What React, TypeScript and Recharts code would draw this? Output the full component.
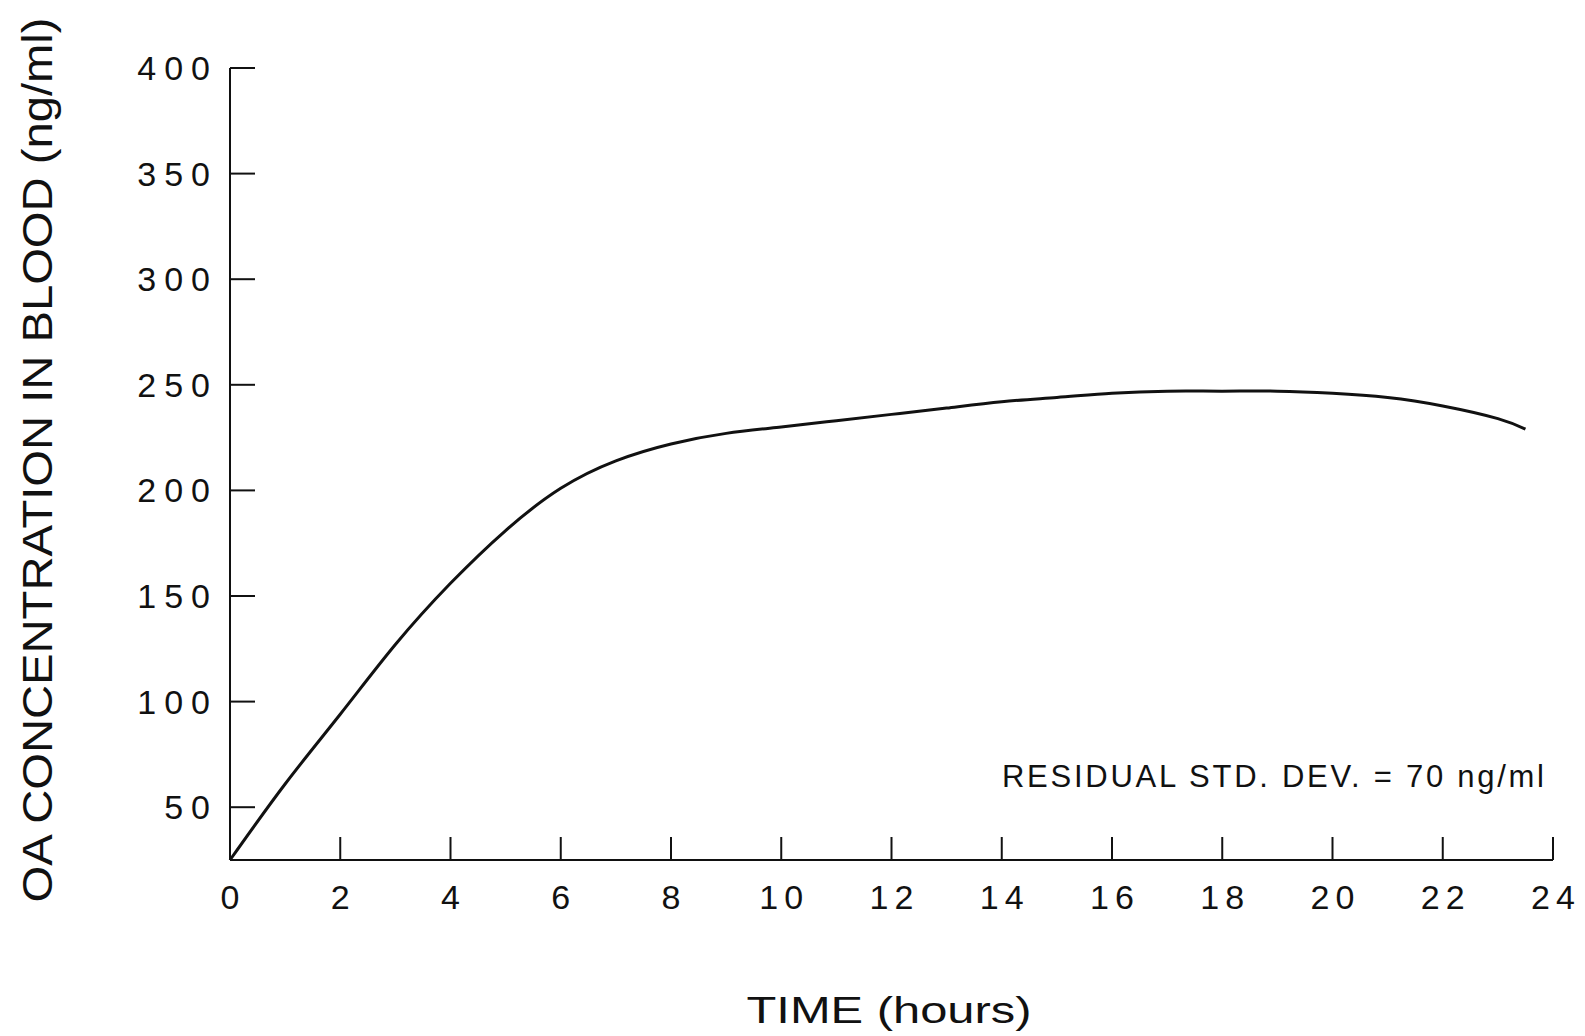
import React from "react";
import { LineChart, Line, XAxis, YAxis, Customized } from "recharts";

// hours after dosing
const hours = [0, 1, 2, 3, 4, 5, 6, 7, 8, 9, 10, 11, 12, 13, 14, 15, 16, 17, 18, 19, 20, 21, 22, 23, 23.5];
// OA concentration in blood (ng/ml)
const concentration = [25, 61, 94, 127, 156, 181, 201, 214, 222, 227, 230, 233, 236, 239, 242, 244, 246, 247, 247, 247, 246, 244, 240, 234, 229];

const xTicks = [0, 2, 4, 6, 8, 10, 12, 14, 16, 18, 20, 22, 24];
const yTicks = [50, 100, 150, 200, 250, 300, 350, 400];

const yTitle = "OA CONCENTRATION IN BLOOD (ng/ml)";
const xTitle = "TIME (hours)";
const note = "RESIDUAL STD. DEV. = 70 ng/ml";

const data = hours.map((t, i) => ({ t, c: concentration[i] }));

const FONT = "'Liberation Sans', Arial, sans-serif";
const INK = "#111";

const YTick = (props: any) => {
  const { x, y, payload } = props;
  return (
    <text x={x} y={y} textAnchor="end" dominantBaseline="central" fontFamily={FONT} fontSize={34} fill={INK} letterSpacing={8}>
      {payload.value}
    </text>
  );
};

const XTick = (props: any) => {
  const { x, y, payload } = props;
  return (
    <text x={x + 3} y={y} dy="0.71em" textAnchor="middle" fontFamily={FONT} fontSize={34} fill={INK} letterSpacing={6}>
      {payload.value}
    </text>
  );
};

const Titles = () => (
  <g fontFamily={FONT} fill={INK}>
    <text
      x={37}
      y={460}
      transform="rotate(-90 37 460)"
      textAnchor="middle"
      dominantBaseline="central"
      fontSize={42}
      textLength={885}
      lengthAdjust="spacingAndGlyphs"
    >
      {yTitle}
    </text>
    <text x={889} y={1023} textAnchor="middle" fontSize={37} textLength={285} lengthAdjust="spacingAndGlyphs">
      {xTitle}
    </text>
    <text x={1273} y={787} textAnchor="middle" fontSize={31} textLength={542} lengthAdjust="spacing">
      {note}
    </text>
  </g>
);

export default function App() {
  return (
    <div style={{ position: "absolute", left: 0, top: 0, width: 1585, height: 1036, background: "#fff" }}>
      <LineChart width={1585} height={1036} data={data} margin={{ top: 68, right: 32, bottom: 116, left: 130 }}>
        <XAxis
          type="number"
          dataKey="t"
          domain={[0, 24]}
          ticks={xTicks}
          interval={0}
          height={60}
          tickSize={-23}
          tickMargin={48}
          tick={<XTick />}
          axisLine={{ stroke: INK, strokeWidth: 2 }}
          tickLine={{ stroke: INK, strokeWidth: 2 }}
        />
        <YAxis
          type="number"
          domain={[25, 400]}
          ticks={yTicks}
          interval={0}
          width={100}
          tickSize={-25}
          tickMargin={37}
          tick={<YTick />}
          axisLine={{ stroke: INK, strokeWidth: 2 }}
          tickLine={{ stroke: INK, strokeWidth: 2 }}
        />
        <Line
          type="natural"
          dataKey="c"
          stroke={INK}
          strokeWidth={3}
          dot={false}
          isAnimationActive={false}
        />
        <Customized component={Titles} />
      </LineChart>
    </div>
  );
}
